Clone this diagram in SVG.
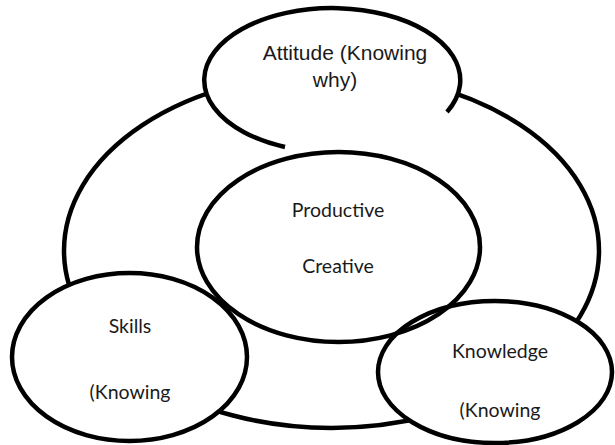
<svg xmlns="http://www.w3.org/2000/svg" width="615" height="445" viewBox="0 0 615 445">
<style>
.ln{fill:none;stroke:#000;stroke-width:4.5}
.nd{fill:#fff;stroke:#000;stroke-width:4.5}
.t1{font-family:"Liberation Sans",Arial,sans-serif;font-size:21px;fill:#1a1a1a;text-anchor:middle}
.t2{font-family:Lato,"Open Sans",sans-serif;font-size:19.5px;fill:#1a1a1a;text-anchor:middle}
</style>
<rect width="615" height="445" fill="#fff"/>
<g id="connectors">
<ellipse class="ln" cx="331.5" cy="250.6" rx="267.5" ry="177.4"/>
</g>
<g id="attitude">
<ellipse cx="332" cy="80" rx="128" ry="72" fill="#fff" stroke="none"/>
<path class="ln" d="M447 112 A128 72 0 1 0 285 147"/>
<text class="t1" x="345" y="60">Attitude (Knowing</text>
<text class="t1" x="335" y="87">why)</text>
</g>
<g id="skills">
<ellipse class="nd" cx="129.5" cy="357" rx="117.5" ry="84"/>
<text class="t2" x="130" y="333">Skills</text>
<text class="t2" x="130" y="399">(Knowing</text>
</g>
<g id="knowledge">
<ellipse class="nd" cx="495" cy="372" rx="117" ry="71"/>
<text class="t2" x="500" y="358">Knowledge</text>
<text class="t2" x="500" y="417">(Knowing</text>
</g>
<g id="center">
<ellipse class="ln" cx="338.5" cy="247" rx="141.5" ry="95"/>
<text class="t2" x="338" y="217">Productive</text>
<text class="t2" x="338" y="273">Creative</text>
</g>
</svg>
